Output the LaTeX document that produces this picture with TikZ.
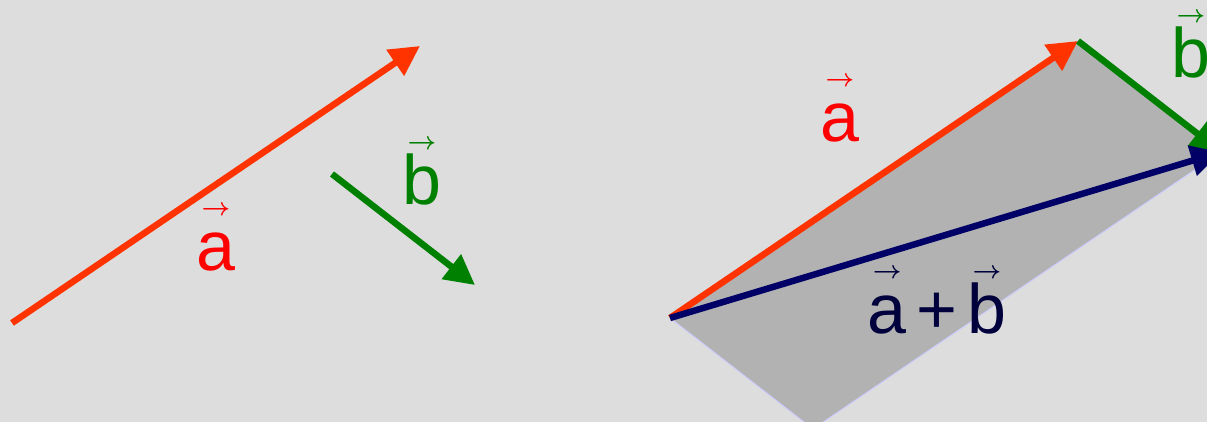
\documentclass[tikz,border=0pt]{standalone}
\usepackage{fontspec}
\setmainfont{Liberation Sans}
\usepackage{tikz}
\usetikzlibrary{
  arrows.meta,
  calc
}
\usepackage{xcolor}

\definecolor{bggray}{HTML}{DDDDDD}
\definecolor{pargray}{HTML}{B2B2B2}
\definecolor{paredge}{HTML}{CCCCFF}
\definecolor{avec}{HTML}{FF3300}
\definecolor{alabel}{HTML}{FF0000}
\definecolor{bvec}{HTML}{008000}
\definecolor{sumvec}{HTML}{000066}
\definecolor{sumlabel}{HTML}{00003C}

% letter with a small arrow above it
\newcommand{\vecl}[1]{\ooalign{#1\cr\hidewidth\raisebox{55pt}{\fontsize{25}{25}\selectfont\boldmath$\rightarrow$}\hidewidth\cr}}

\begin{document}
\begin{tikzpicture}[x=1pt, y=-1pt,
  vecarrow/.style={line width=6.5pt, -{Triangle[length=30pt,width=30pt]}},
  veclabel/.style={font=\fontsize{70}{84}\selectfont, anchor=base, inner sep=0pt}]

  \fill[bggray] (0,0) rectangle (1207,422);
  \clip (0,0) rectangle (1207,422);

  % Separate vectors
  \coordinate (a0) at (12,323);
  \coordinate (a1) at (420,46);
  \coordinate (b0) at (332,174);
  \coordinate (b1) at (475,285);

  \draw[vecarrow, avec] (a0) -- (a1);
  \draw[vecarrow, bvec] (b0) -- (b1);
  \node[veclabel, text=alabel] (la) at (216,270) {\vecl{a}};
  \node[veclabel, text=bvec] (lb) at (422,205) {\vecl{b}};

  % Sum: parallelogram
  \coordinate (o) at (670,318);
  \coordinate (p) at ($(o)+(408,-277)$);
  \coordinate (q) at ($(p)+(143,111)$);
  \coordinate (r) at ($(o)+(143,111)$);

  \draw[fill=pargray, draw=paredge, line width=1pt] (o) -- (p) -- (q) -- (r) -- cycle;

  \draw[vecarrow, avec] (o) -- (p);
  \draw[vecarrow, bvec] (p) -- (q);
  \draw[vecarrow, sumvec] (o) -- (q);

  \node[veclabel, text=alabel] (ra) at (840,142) {\vecl{a}};
  \node[veclabel, text=bvec] (rb) at (1191,78) {\vecl{b}};
  \node[veclabel, text=sumlabel] (rs) at (937,333) {\vecl{a}\hspace{10pt}+\hspace{10pt}\vecl{b}};

\end{tikzpicture}
\end{document}
